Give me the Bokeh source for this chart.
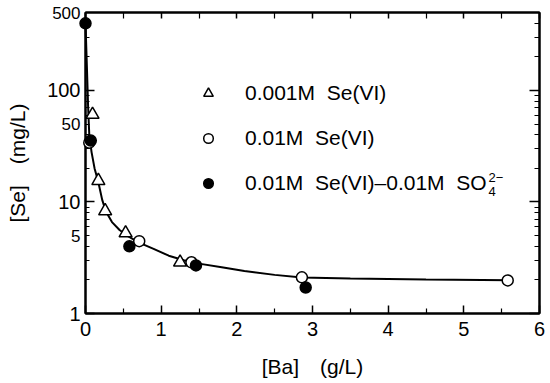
from bokeh.plotting import figure
from bokeh.models import (LinearAxis, LogAxis, FixedTicker, Range1d, Legend, LegendItem,
                          Label, BasicTickFormatter)
from bokeh.core.properties import value
from bokeh.embed import file_html
from bokeh.resources import INLINE

# ---- data ----
tri_x = [0.093, 0.17, 0.26, 0.53, 1.25]
tri_y = [60.8, 15.5, 8.3, 5.26, 2.88]

open_x = [0.05, 0.71, 1.40, 2.86, 5.58]
open_y = [34.0, 4.45, 2.88, 2.11, 1.98]

fill_x = [0.0, 0.07, 0.58, 1.46, 2.91]
fill_y = [400.0, 35.5, 4.0, 2.7, 1.71]

curve_x = [0.0, 0.02, 0.035, 0.05, 0.08, 0.12, 0.17, 0.22, 0.27, 0.35, 0.45, 0.55, 0.7,
           0.9, 1.1, 1.3, 1.5, 1.8, 2.1, 2.5, 2.86, 3.5, 4.5, 5.65]
curve_y = [400, 150, 70, 40, 28, 20, 15, 10.5, 8.2, 6.6, 5.6, 5.0, 4.35,
           3.8, 3.3, 3.0, 2.8, 2.6, 2.4, 2.22, 2.1, 2.06, 2.02, 1.99]

x_ticks = [0, 1, 2, 3, 4, 5, 6]
x_minor = [0.5, 1.5, 2.5, 3.5, 4.5, 5.5]
y_ticks = [1, 10, 100]
y_minor = [2, 3, 4, 5, 6, 7, 8, 9, 20, 30, 40, 50, 60, 70, 80, 90, 200, 300, 400, 500]
y_small_labels = [5, 50, 500]

labels = ["0.001M  Se(VI)", "0.01M  Se(VI)", "0.01M  Se(VI)\u20130.01M  SO"]
x_title = "[Ba]\u2003(g/L)"
y_title = "[Se]\u2003(mg/L)"

FONT = "Liberation Sans"

p = figure(width=550, height=383, output_backend="svg", toolbar_location=None,
           x_axis_location=None, y_axis_location=None, y_axis_type="log",
           x_range=Range1d(0, 6), y_range=Range1d(1, 500))
p.min_border_left = 85
p.min_border_right = 11
p.min_border_top = 12
p.min_border_bottom = 70
p.outline_line_color = "black"
p.outline_line_width = 2
p.background_fill_color = "white"
p.border_fill_color = "white"
p.xgrid.visible = False
p.ygrid.visible = False

def style(ax, tin, mtin):
    ax.axis_line_width = 2
    ax.axis_line_color = "black"
    ax.major_tick_in = tin
    ax.major_tick_out = 0
    ax.minor_tick_in = mtin
    ax.minor_tick_out = 0
    ax.major_tick_line_width = 1.5
    ax.minor_tick_line_width = 1.2
    ax.major_tick_line_color = "black"
    ax.minor_tick_line_color = "black"
    ax.major_label_text_font = FONT
    ax.axis_label_text_font = FONT
    ax.axis_label_text_font_style = "normal"
    ax.major_label_text_color = "black"
    ax.axis_label_text_color = "black"

xt = FixedTicker(ticks=x_ticks, minor_ticks=x_minor)
yt = FixedTicker(ticks=y_ticks, minor_ticks=y_minor)

bottom = LinearAxis(ticker=xt, axis_label=x_title)
style(bottom, 8, 5)
bottom.major_label_text_font_size = "20px"
bottom.axis_label_text_font_size = "21px"
bottom.major_label_standoff = 8
bottom.axis_label_standoff = 16
p.add_layout(bottom, "below")

left = LogAxis(ticker=yt, axis_label=y_title, formatter=BasicTickFormatter())
style(left, 9, 4)
left.major_label_text_font_size = "20px"
left.axis_label_text_font_size = "21px"
left.major_label_standoff = 5
left.axis_label_standoff = 15
p.add_layout(left, "left")

top = LinearAxis(ticker=xt)
style(top, 6, 6)
top.major_label_text_font_size = "1px"
top.major_label_text_alpha = 0
top.major_label_standoff = 0
p.add_layout(top, "above")

right = LogAxis(ticker=yt, formatter=BasicTickFormatter())
style(right, 10, 5)
right.major_label_text_font_size = "1px"
right.major_label_text_alpha = 0
right.major_label_standoff = 0
p.add_layout(right, "right")

# smaller intermediate tick labels (5, 50, 500), drawn at the left axis
p.text(x=[0] * len(y_small_labels), y=y_small_labels, text=[str(v) for v in y_small_labels],
       x_offset=-5, text_align="right", text_baseline="middle", text_font=value(FONT),
       text_font_size="17px", text_color="black", level="overlay")

p.line(curve_x, curve_y, line_color="black", line_width=2, level="overlay")
r_tri = p.scatter(tri_x, tri_y, marker="triangle", size=13, fill_color="white",
                  line_color="black", line_width=1.5, level="overlay")
r_open = p.scatter(open_x, open_y, marker="circle", size=11, fill_color="white",
                   line_color="black", line_width=1.5, level="overlay")
r_fill = p.scatter(fill_x, fill_y, marker="circle", size=11, fill_color="black",
                   line_color="black", line_width=1.5, level="overlay")

legend = Legend(items=[LegendItem(label=labels[0], renderers=[r_tri]),
                       LegendItem(label=labels[1], renderers=[r_open]),
                       LegendItem(label=labels[2], renderers=[r_fill])],
                location=(111, 116))
legend.padding = 0
legend.margin = 0
legend.border_line_alpha = 0
legend.background_fill_alpha = 0
legend.label_standoff = 25
legend.glyph_width = 24
legend.glyph_height = 28
legend.label_height = 28
legend.spacing = 17
legend.label_text_font = FONT
legend.label_text_font_size = "21px"
legend.label_text_color = "black"
p.add_layout(legend)

p.add_layout(Label(x=403, y=136, x_units="screen", y_units="screen", text="2\u2212",
                   text_baseline="middle", text_font=FONT, text_font_size="13px", text_color="black"))
p.add_layout(Label(x=403, y=122, x_units="screen", y_units="screen", text="4",
                   text_baseline="middle", text_font=FONT, text_font_size="13px", text_color="black"))

open("out.html", "w").write(file_html(p, INLINE))
